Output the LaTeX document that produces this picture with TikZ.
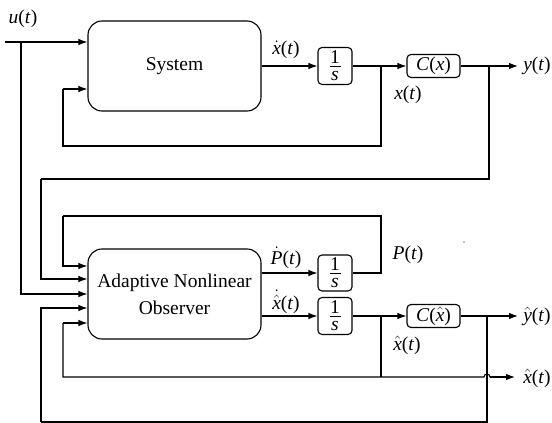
\documentclass[tikz,border=0pt]{standalone}
\usepackage{fontspec}
\setmainfont{Liberation Serif}
\usetikzlibrary{arrows.meta,calc}
% italic variable set in the text font, usable under math accents
\newcommand\mvar[1]{\mbox{\textit{#1}}}
\newcommand\tvar[1]{\textit{#1}}

\begin{document}
\begin{tikzpicture}[x=1pt,y=-1pt,line width=1.1pt,
  >={Latex[length=9pt,width=6.5pt]},
  font=\fontsize{19.5}{23}\selectfont,
  block/.style={draw,rounded corners=14pt,minimum width=173pt,minimum height=90pt,inner sep=0pt,align=center},
  intbox/.style={draw,rounded corners=4pt,minimum width=34pt,minimum height=37pt,inner sep=0pt},
  outbox/.style={draw,rounded corners=4pt,minimum width=53pt,minimum height=23pt,inner sep=0pt},
  lbl/.style={inner sep=0pt}]
\useasboundingbox (0,0) rectangle (552,423);

% ---------- plant ----------
\node[block] (sys) at (174.5,66) {System};
\node[intbox] (int1) at (335,66) {};
\node[outbox] (cx) at (433.5,66) {\tvar{C}(\tvar{x})};

% ---------- observer ----------
\node[block,font=\fontsize{19.5}{27}\selectfont] (obs) at (174.5,294) {Adaptive Nonlinear\\Observer};
\node[intbox,minimum height=36pt] (intp) at (335,273) {};
\node[intbox] (intx) at (335,316) {};
\node[outbox] (cxh) at (433.5,316) {\tvar{C}($\hat{\mvar{x}}$)};

% 1/s inside the integrator boxes
\foreach \b in {int1,intp,intx}{
  \node[lbl] at ($(\b.center)+(0,-9)$) {1};
  \node[lbl] at ($(\b.center)+(0,10)$) {\tvar{s}};
  \draw[line width=0.8pt] ($(\b.center)+(-5.5,0)$) -- ($(\b.center)+(5.5,0)$);
}

% ---------- named points ----------
\coordinate (uin) at (5,42);
\coordinate (ub) at (21,42);
\coordinate (jx) at (381,66);
\coordinate (jxd) at (381,146);
\coordinate (fbs) at (63,146);
\coordinate (sin2) at ($(sys.west)+(0,23)$);
\coordinate (yout) at (518,66);
\coordinate (jy) at (489,66);
\coordinate (jyd) at (489,179);
\coordinate (yl) at (41,179);
\coordinate (oin1) at ($(obs.west)+(0,-28)$);
\coordinate (oin2) at ($(obs.west)+(0,-15)$);
\coordinate (oin4) at ($(obs.west)+(0,14)$);
\coordinate (oin5) at ($(obs.west)+(0,29)$);
\coordinate (pout) at (381,273);
\coordinate (pup) at (381,216);
\coordinate (pl) at (63,216);
\coordinate (yhout) at (518,316);
\coordinate (jyh) at (487,316);
\coordinate (jyhd) at (487,422);
\coordinate (yhl) at (41,422);
\coordinate (jxh) at (381,316);
\coordinate (jxhd) at (381,377);
\coordinate (xhl) at (63,377);
\coordinate (hop) at (484,377);
\coordinate (xhout) at (515,377);

% ---------- plant connectors ----------
\draw[->] (uin) -- (sys.west |- uin);
\draw[->] (ub) |- (obs.west);
\draw[->] (sys.east |- int1) -- (int1.west);
\draw[->] (int1.east) -- (cx.west);
\draw[->] (cx.east) -- (yout);
\draw (jx) -- (jxd) -- (fbs) -- (fbs |- sin2);
\draw[->] (fbs |- sin2) -- (sys.west |- sin2);
\draw (jy) -- (jyd) -- (yl);
\draw[->] (yl) |- (oin2);

% ---------- observer connectors ----------
\draw[->] (obs.east |- intp) -- (intp.west);
\draw[->] (obs.east |- intx) -- (intx.west);
\draw (intp.east) -- (pout) -- (pup) -- (pl);
\draw[->] (pl) |- (oin1);
\draw[->] (intx.east) -- (cxh.west);
\draw[->] (cxh.east) -- (yhout);
\draw (jyh) -- (jyhd) -- (yhl);
\draw[->] (yhl) |- (oin4);
\draw (jxh) -- (jxhd);
\draw[->] (oin5 -| xhl) -- (oin5);
\draw (oin5 -| xhl) -- (xhl) -- (hop) arc[start angle=180,end angle=0,radius=3pt] -- ++(1,0);
\draw[->] ($(hop)+(6,0)$) -- (xhout);

% ---------- signal labels ----------
\node[lbl] at (23,19) {\tvar{u}(\tvar{t})};
\node[lbl] at (286,50) {$\dot{\mvar{x}}$(\tvar{t})};
\node[lbl] at (537,66) {\tvar{y}(\tvar{t})};
\node[lbl] at (408,95) {\tvar{x}(\tvar{t})};
\node[lbl] at (286,258) {$\dot{\mvar{P}}$(\tvar{t})};
\node[lbl] at (408,255) {\tvar{P}(\tvar{t})};
\node[lbl] at (286,302) {$\dot{\hat{\mvar{x}}}$(\tvar{t})};
\node[lbl] at (537,316) {$\hat{\mvar{y}}$(\tvar{t})};
\node[lbl] at (407,345) {$\hat{\mvar{x}}$(\tvar{t})};
\node[lbl] at (537,378) {$\hat{\mvar{x}}$(\tvar{t})};
\fill (464,242) circle (0.7pt);
\end{tikzpicture}
\end{document}
